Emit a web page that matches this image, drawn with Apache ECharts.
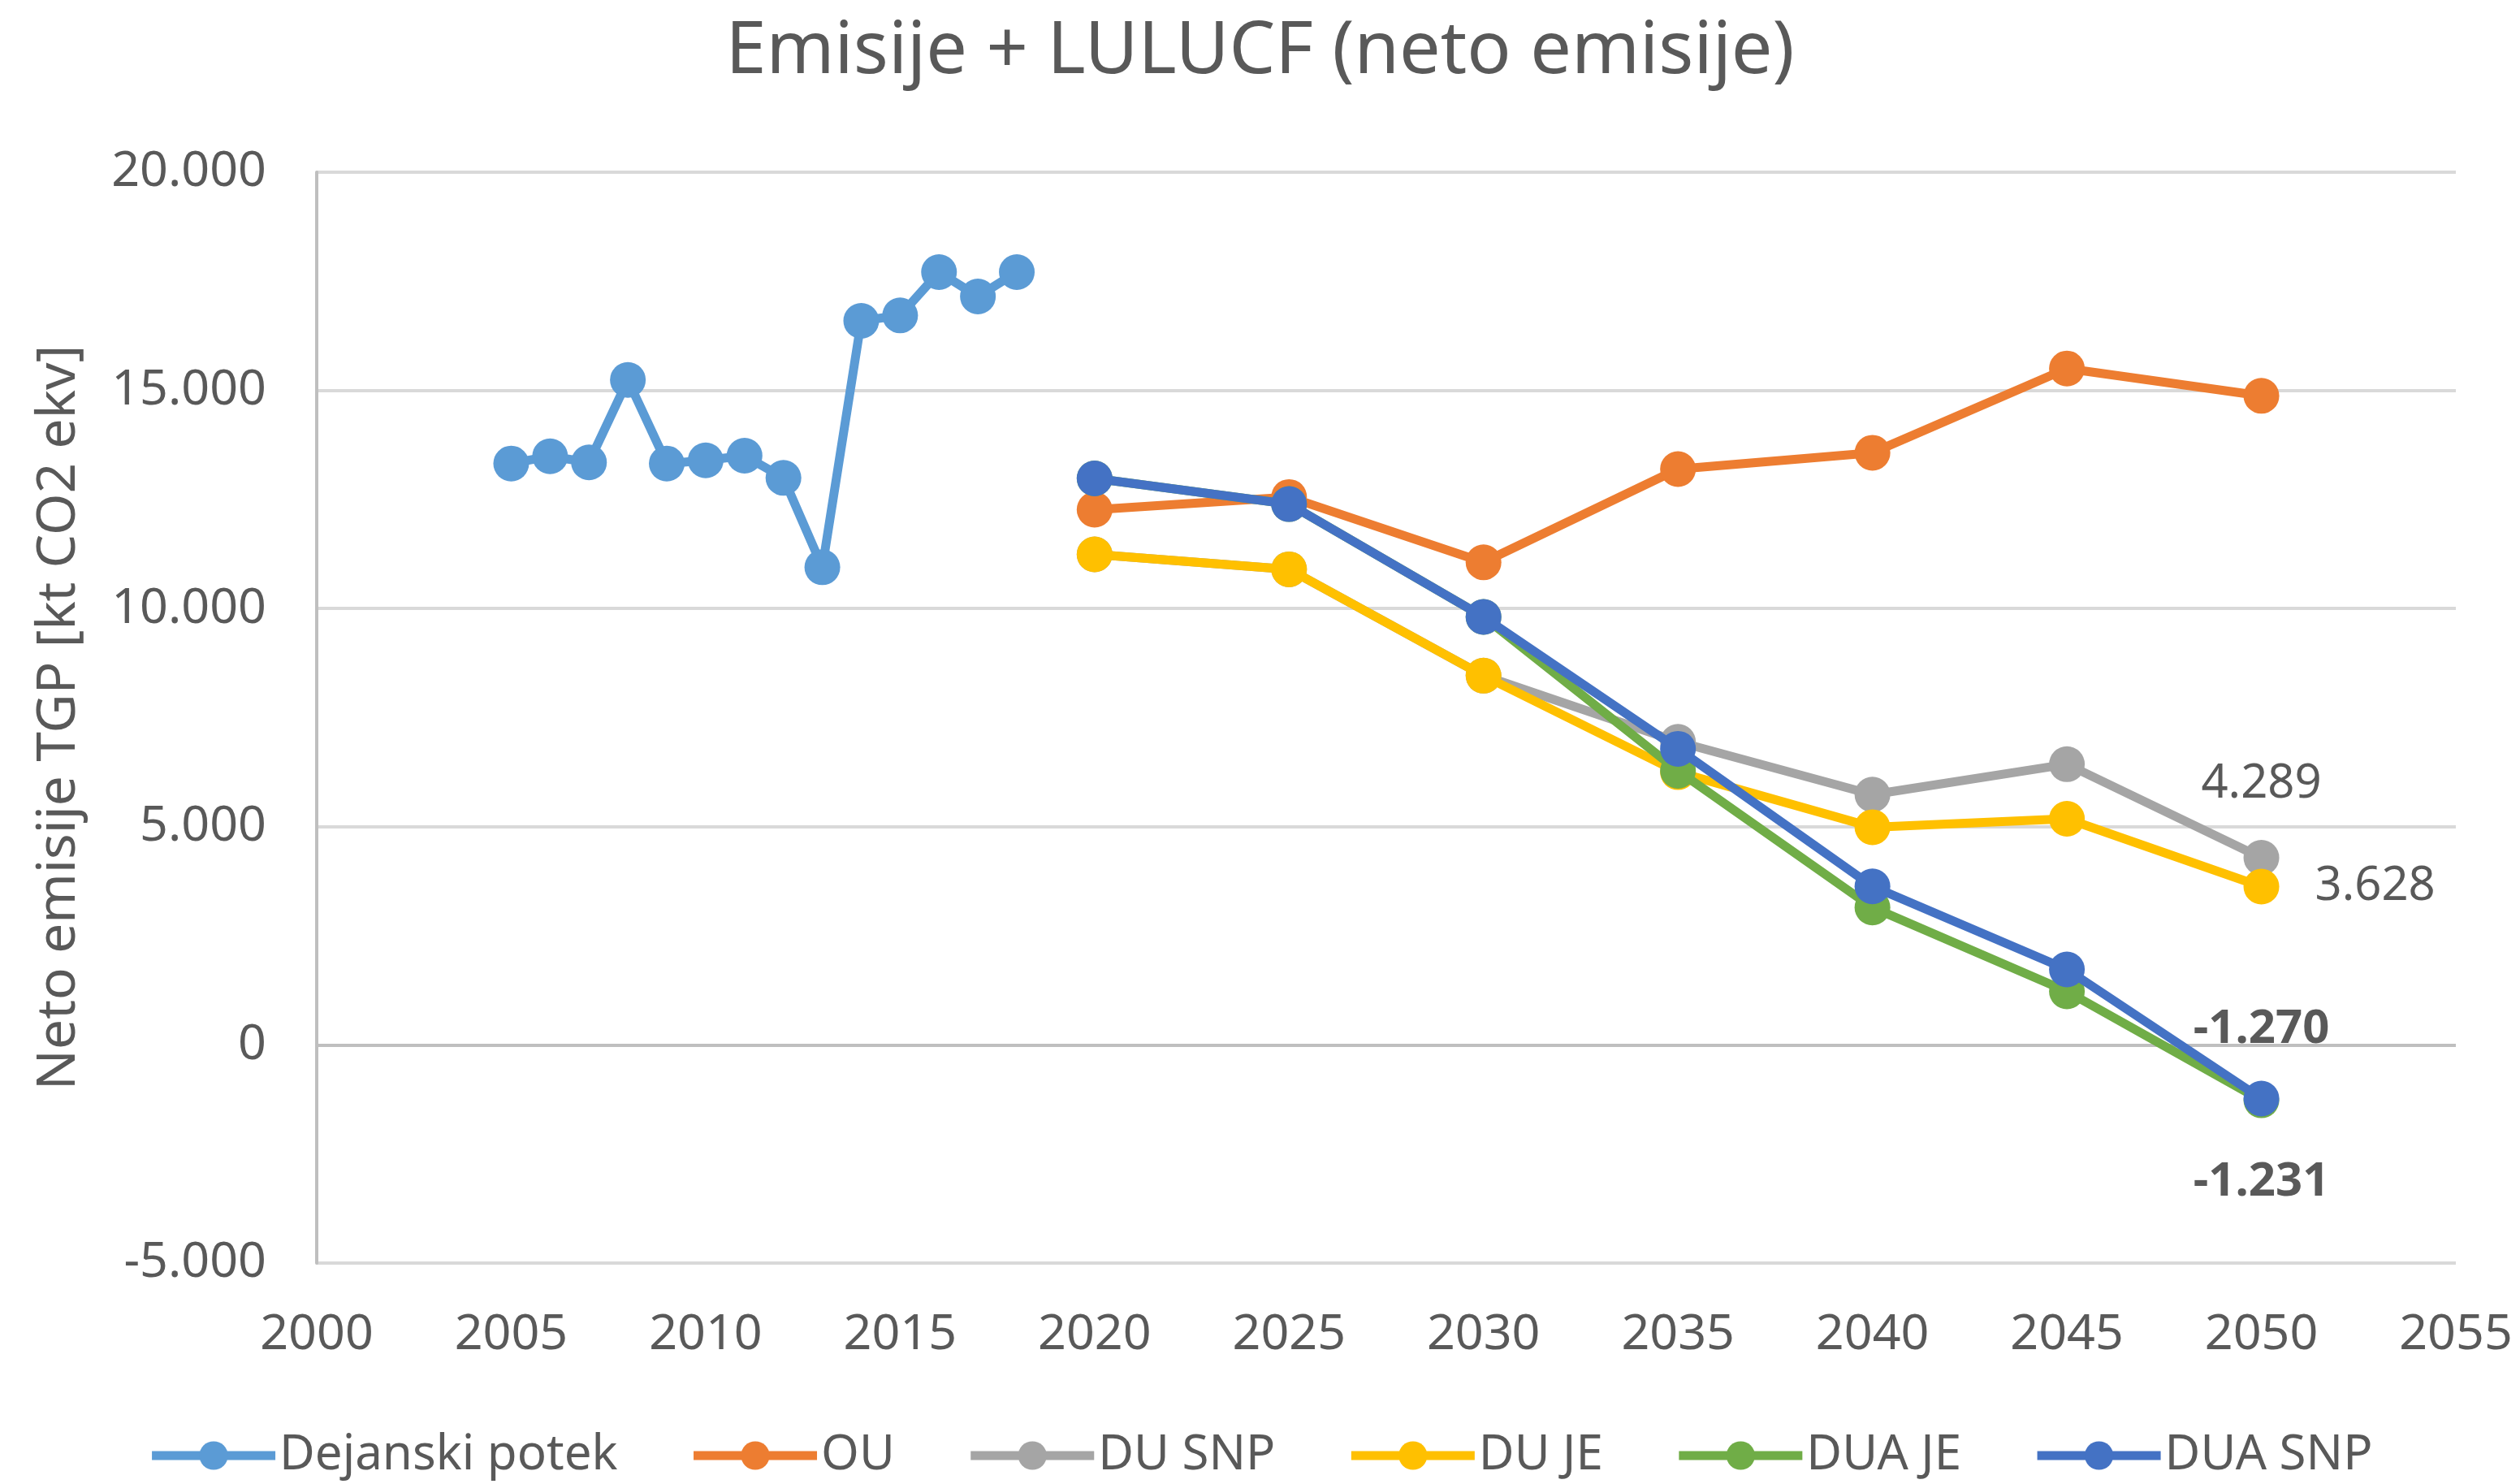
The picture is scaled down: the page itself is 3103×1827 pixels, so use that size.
<!DOCTYPE html>
<html><head><meta charset="utf-8">
<script src="https://cdn.jsdelivr.net/npm/echarts@6/dist/echarts.min.js"></script>
<style>html,body{margin:0;padding:0;background:#fff}#c{width:3103px;height:1827px}</style>
</head><body><div id="c"></div>
<script>
const histYears = [2005,2006,2007,2008,2009,2010,2011,2012,2013,2014,2015,2016,2017,2018];
const histValues = [13323,13490,13349,15240,13323,13397,13503,12995,10947,16593,16718,17710,17152,17710];
const projYears = [2020,2025,2030,2035,2040,2045,2050];
const ouValues = [12267,12556,11059,13196,13570,15501,14875];
const duSnpValues = [11241,10899,8462,6945,5737,6432,4289];
const duJeValues = [11241,10899,8462,6251,4989,5182,3628];
const duaJeValues = [12982,12394,9808,6280,3151,1228,-1270];
const duaSnpValues = [12982,12394,9808,6785,3632,1729,-1231];
const seriesNames = ['Dejanski potek','OU','DU SNP','DU JE','DUA JE','DUA SNP'];
const colors = ['#5B9BD5','#ED7D31','#A5A5A5','#FFC000','#70AD47','#4472C4'];
const yTicks = [-5000,0,5000,10000,15000,20000];

const fmt = v => {
  const s = Math.abs(v).toString().replace(/\B(?=(\d{3})+(?!\d))/g,'.');
  return (v<0?'-':'') + s;
};
const pairs = (xs, ys) => xs.map((x,i)=>[x,ys[i]]);
const TXT = '#595959';
const FONT = 'Noto Sans';

function lineSeries(name, idx, data, endLabel){
  const s = {
    name, type:'line', data,
    symbol:'circle', symbolSize:44,
    lineStyle:{width:11,color:colors[idx]},
    itemStyle:{color:colors[idx]},
    emphasis:{disabled:true},
    animation:false, z: 2+idx
  };
  if (endLabel){
    const last = data.length-1;
    s.data = data.map((d,i)=> i===last ? {value:d, label:Object.assign({show:true, formatter:p=>fmt(p.value[1]), color:TXT, fontFamily:FONT, fontSize:58}, endLabel)} : d);
  }
  return s;
}

const chart = echarts.init(document.getElementById('c'), null, {renderer:'canvas'});
const series = [
  lineSeries(seriesNames[0],0,pairs(histYears,histValues)),
  lineSeries(seriesNames[1],1,pairs(projYears,ouValues)),
  lineSeries(seriesNames[2],2,pairs(projYears,duSnpValues),{position:'top',distance:40}),
  lineSeries(seriesNames[3],3,pairs(projYears,duJeValues),{position:'right',distance:44}),
  lineSeries(seriesNames[4],4,pairs(projYears,duaJeValues),{position:'top',distance:36,fontWeight:'bold'}),
  lineSeries(seriesNames[5],5,pairs(projYears,duaSnpValues),{position:'bottom',distance:52,fontWeight:'bold'})
];
series[0].markLine = {silent:true, symbol:'none', animation:false, label:{show:false},
  lineStyle:{color:'#BFBFBF', width:4, type:'solid'}, data:[{yAxis:0}]};

chart.setOption({
  backgroundColor:'#fff',
  color:colors,
  title:{text:'Emisije + LULUCF (neto emisije)', left:'center', top:14,
    textStyle:{color:TXT, fontFamily:FONT, fontSize:90, fontWeight:'normal'}},
  grid:{left:390, right:79, top:212, bottom:272, containLabel:false},
  legend:{bottom:0, left:'center', itemWidth:152, itemHeight:44, itemGap:88,
    lineStyle:{width:11},
    textStyle:{color:TXT, fontFamily:FONT, fontSize:60}, data:seriesNames},
  xAxis:{type:'value', min:2000, max:2055, interval:5,
    axisLine:{show:false}, axisTick:{show:false}, splitLine:{show:false},
    axisLabel:{color:TXT, fontFamily:FONT, fontSize:61, margin:58, formatter:v=>String(v)}},
  yAxis:{type:'value', min:yTicks[0], max:yTicks[yTicks.length-1], interval:5000,
    name:'Neto emisije TGP [kt CO2 ekv]', nameLocation:'middle', nameGap:284,
    nameTextStyle:{color:TXT, fontFamily:FONT, fontSize:66},
    axisLine:{show:true, lineStyle:{color:'#BFBFBF', width:4}}, axisTick:{show:false},
    splitLine:{show:true, lineStyle:{color:'#D9D9D9', width:4}},
    axisLabel:{color:TXT, fontFamily:FONT, fontSize:61, margin:62, formatter:fmt}},
  series
});
</script></body></html>
